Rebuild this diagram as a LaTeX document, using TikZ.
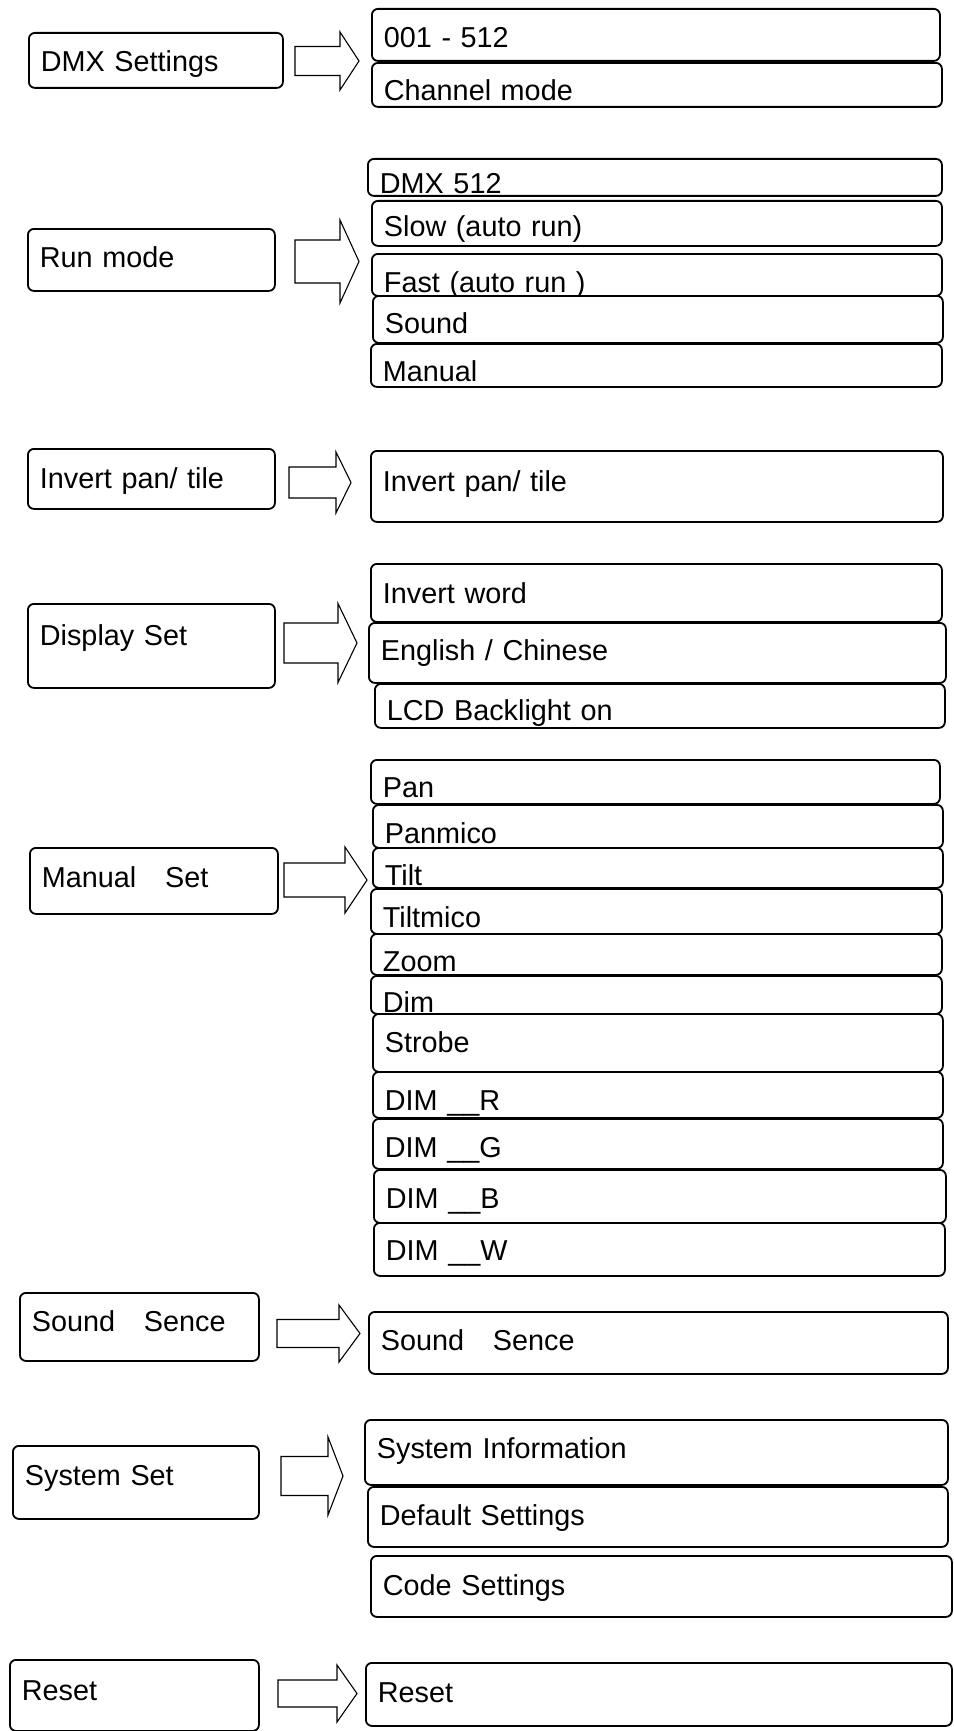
\documentclass[tikz,border=0pt]{standalone}
\usepackage{fontspec}
\setmainfont{Liberation Sans}
\usepackage{tikz}
\usetikzlibrary{positioning}
\newcommand{\menutext}{\fontsize{28.8}{34}\selectfont}
% block arrow: shaft left, head base, tip, centre y, half shaft, half head
\newcommand{\blockarrow}[6]{%
  \draw[arrowline] (#1,#4-#5) -- (#2,#4-#5) -- (#2,#4-#6) -- (#3,#4)
    -- (#2,#4+#6) -- (#2,#4+#5) -- (#1,#4+#5) -- cycle;}

\begin{document}
\begin{tikzpicture}[x=1pt,y=-1pt,
  menubox/.style={draw,line width=1.8pt,rounded corners=6pt,fill=white,
    anchor=north west,inner xsep=12pt,inner ysep=0pt,align=left,font=\menutext},
  arrowline/.style={draw,line width=1.1pt,fill=white,line join=miter}
]
  \useasboundingbox (0,0) rectangle (953,1731);

  % DMX settings
  \node[menubox,text width=230pt,text height=39pt,text depth=16pt] (dmx) at (28,32) {DMX Settings};
  \blockarrow{295}{340}{359}{61}{14.5}{29}
  \node[menubox,text width=544pt,text height=39pt,text depth=13pt] (addr) at (371,8) {001 - 512};
  \node[menubox,text width=546pt,text height=38pt,text depth=6pt] (chmode) at (371,62) {Channel mode};

  % Run mode
  \node[menubox,text width=223pt,text height=39pt,text depth=23pt] (runmode) at (27,228) {Run mode};
  \blockarrow{295}{340}{359}{261.5}{21.5}{41.5}
  \node[menubox,text width=550pt,text height=35pt,text depth=2pt] (dmxrun) at (367,158) {DMX 512};
  \node[menubox,text width=546pt,text height=36pt,text depth=9pt] (slow) at (371,200) {Slow (auto run)};
  \node[menubox,text width=546pt,text height=39pt,text depth=3pt] (fast) at (371,253) {Fast (auto run )};
  \node[menubox,text width=546pt,text height=38pt,text depth=9pt] (sound) at (372,295) {Sound};
  \node[menubox,text width=547pt,text height=38pt,text depth=5pt] (manual) at (370,343) {Manual};

  % Invert pan / tilt
  \node[menubox,text width=223pt,text height=40pt,text depth=20pt] (invert) at (27,448) {Invert pan/ tile};
  \blockarrow{289}{336}{351}{482.5}{15.5}{30.5}
  \node[menubox,text width=548pt,text height=41pt,text depth=30pt] (invertsub) at (370,450) {Invert pan/ tile};

  % Display set
  \node[menubox,text width=223pt,text height=42pt,text depth=42pt] (display) at (27,603) {Display Set};
  \blockarrow{284}{338}{357}{643}{20}{39.5}
  \node[menubox,text width=547pt,text height=40pt,text depth=18pt] (word) at (370,563) {Invert word};
  \node[menubox,text width=553pt,text height=38pt,text depth=22pt] (lang) at (368,622) {English / Chinese};
  \node[menubox,text width=546pt,text height=37pt,text depth=7pt] (lcd) at (374,683) {LCD Backlight on};

  % Manual set
  \node[menubox,text width=224pt,text height=40pt,text depth=26pt] (manualset) at (29,847) {Manual\ \ \ Set};
  \blockarrow{284}{345}{367}{880}{17}{33}
  \node[menubox,text width=545pt,text height=38pt,text depth=6pt] (pan) at (370,759) {Pan};
  \node[menubox,text width=546pt,text height=39pt,text depth=4pt] (panmico) at (372,804) {Panmico};
  \node[menubox,text width=546pt,text height=38pt,text depth=2pt] (tilt) at (372,847) {Tilt};
  \node[menubox,text width=547pt,text height=39pt,text depth=6pt] (tiltmico) at (370,888) {Tiltmico};
  \node[menubox,text width=547pt,text height=38pt,text depth=3pt] (zoom) at (370,933) {Zoom};
  \node[menubox,text width=547pt,text height=37pt,text depth=1pt] (dim) at (370,975) {Dim};
  \node[menubox,text width=546pt,text height=39pt,text depth=19pt] (strobe) at (372,1013) {Strobe};
  \node[menubox,text width=546pt,text height=39pt,text depth=7pt] (dimr) at (372,1071) {DIM \_\_R};
  \node[menubox,text width=546pt,text height=39pt,text depth=11pt] (dimg) at (372,1118) {DIM \_\_G};
  \node[menubox,text width=548pt,text height=39pt,text depth=14pt] (dimb) at (373,1169) {DIM \_\_B};
  \node[menubox,text width=547pt,text height=38pt,text depth=15pt] (dimw) at (373,1222) {DIM \_\_W};

  % Sound sence
  \node[menubox,text width=215pt,text height=39pt,text depth=29pt] (soundset) at (19,1292) {Sound\ \ \ Sence};
  \blockarrow{277}{339}{360}{1333.5}{14}{28.5}
  \node[menubox,text width=555pt,text height=39pt,text depth=23pt] (soundsub) at (368,1311) {Sound\ \ \ Sence};

  % System set
  \node[menubox,text width=222pt,text height=40pt,text depth=33pt] (system) at (12,1445) {System Set};
  \blockarrow{281}{328}{343}{1476}{19.5}{39}
  \node[menubox,text width=559pt,text height=39pt,text depth=26pt] (info) at (364,1419) {System Information};
  \node[menubox,text width=556pt,text height=39pt,text depth=21pt] (default) at (367,1486) {Default Settings};
  \node[menubox,text width=557pt,text height=40pt,text depth=21pt] (code) at (370,1555) {Code Settings};

  % Reset
  \node[menubox,text width=225pt,text height=41pt,text depth=30pt] (reset) at (9,1659) {Reset};
  \blockarrow{278}{337}{357}{1693.5}{13.5}{28.5}
  \node[menubox,text width=562pt,text height=40pt,text depth=23pt] (resetsub) at (365,1662) {Reset};
\end{tikzpicture}
\end{document}
